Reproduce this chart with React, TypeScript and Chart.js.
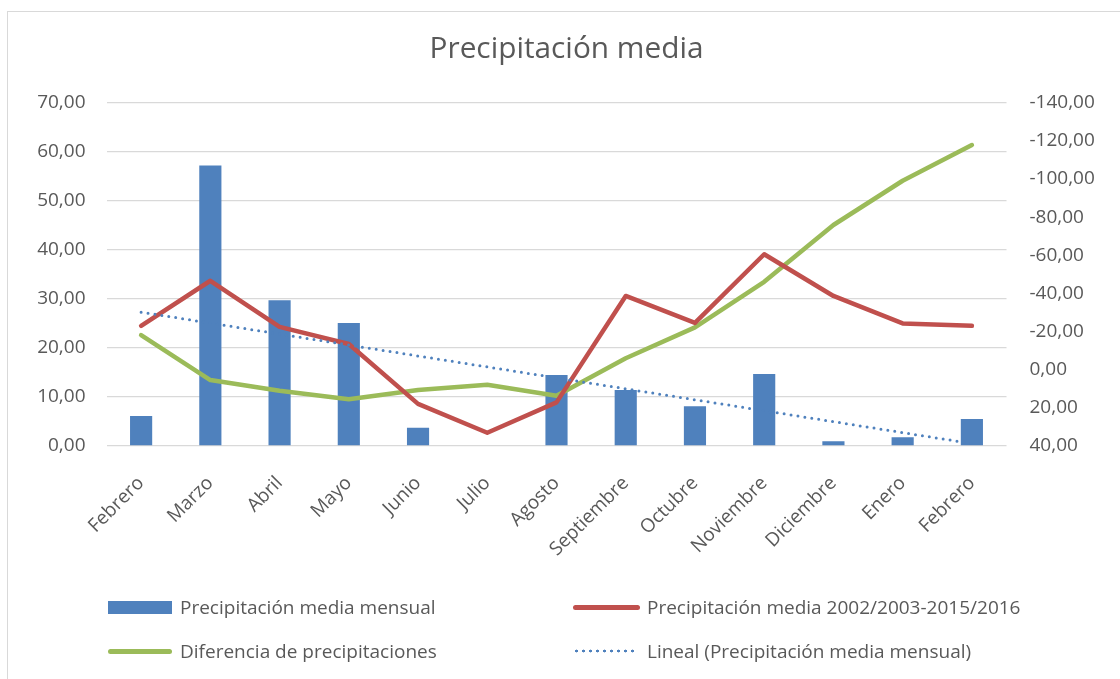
import React, { useEffect, useRef } from "react";
import { Chart, registerables } from "chart.js";

Chart.register(...registerables);

const months = ["Febrero", "Marzo", "Abril", "Mayo", "Junio", "Julio", "Agosto", "Septiembre", "Octubre", "Noviembre", "Diciembre", "Enero", "Febrero"];
const precipMensual = [6.1, 57.2, 29.7, 25.1, 3.7, 0, 14.5, 11.4, 8.1, 14.7, 0.95, 1.8, 5.5];
const precipMedia = [24.5, 33.7, 24.3, 20.8, 8.6, 2.7, 8.9, 30.6, 25.1, 39.1, 30.6, 25.0, 24.5];
const diferencia = [-18.2, 5.4, 11.0, 15.5, 10.6, 7.9, 13.6, -6.0, -22.2, -46.1, -75.9, -99.1, -117.8];
const tendenciaInicio = 27.3;
const tendenciaFin = 0.5;
const tendencia = months.map((_, i) => (i === 0 ? tendenciaInicio : i === months.length - 1 ? tendenciaFin : null));

const leftTicks = { min: 0, max: 70, step: 10 };
const rightTicks = { min: -140, max: 40, step: 20 };

const seriesNames = [
  "Precipitación media mensual",
  "Precipitación media 2002/2003-2015/2016",
  "Diferencia de precipitaciones",
  "Lineal (Precipitación media mensual)",
];
const title = "Precipitación media";

const BLUE = "#4F81BD";
const RED = "#C0504D";
const GREEN = "#9BBB59";
const TEXT = "#595959";
const FONT = "'Open Sans', sans-serif";

const fmt = (v: number) => v.toFixed(2).replace(".", ",").replace(/^-0,00$/, "0,00");

export default function App() {
  const ref = useRef<HTMLCanvasElement>(null);

  useEffect(() => {
    if (!ref.current) return;
    const chart = new Chart(ref.current, {
      type: "bar",
      data: {
        labels: months,
        datasets: [
          {
            type: "bar",
            label: seriesNames[0],
            data: precipMensual,
            backgroundColor: BLUE,
            borderWidth: 0,
            barPercentage: 0.32,
            categoryPercentage: 1,
            yAxisID: "y",
            order: 4,
          },
          {
            type: "line",
            label: seriesNames[1],
            data: precipMedia,
            borderColor: RED,
            backgroundColor: RED,
            borderWidth: 4.5,
            pointRadius: 0,
            tension: 0,
            borderCapStyle: "round",
            borderJoinStyle: "round",
            yAxisID: "y",
            order: 2,
          },
          {
            type: "line",
            label: seriesNames[2],
            data: diferencia,
            borderColor: GREEN,
            backgroundColor: GREEN,
            borderWidth: 4.5,
            pointRadius: 0,
            tension: 0,
            borderCapStyle: "round",
            borderJoinStyle: "round",
            yAxisID: "y2",
            order: 3,
          },
          {
            type: "line",
            label: seriesNames[3],
            data: tendencia,
            borderColor: BLUE,
            borderWidth: 3,
            borderDash: [0, 7],
            borderCapStyle: "round",
            pointRadius: 0,
            spanGaps: true,
            yAxisID: "y",
            order: 1,
          },
        ],
      },
      options: {
        responsive: false,
        animation: false,
        layout: { padding: { left: 13, right: 0, top: 0, bottom: 0 } },
        plugins: {
          legend: { display: false },
          tooltip: { enabled: false },
          title: {
            display: true,
            text: title,
            color: TEXT,
            font: { family: FONT, size: 29.8, weight: "normal" },
            padding: { top: 32, bottom: 35 },
          },
        },
        scales: {
          x: {
            grid: { display: false },
            border: { display: false },
            ticks: {
              color: TEXT,
              font: { family: FONT, size: 19 },
              minRotation: 45,
              maxRotation: 45,
              autoSkip: false,
              padding: 18,
            },
            afterFit: (s: any) => {
              s.height = 233;
            },
          },
          y: {
            position: "left",
            min: leftTicks.min,
            max: leftTicks.max,
            ticks: {
              stepSize: leftTicks.step,
              color: TEXT,
              font: { family: FONT, size: 19 },
              padding: 21,
              callback: (v: any) => fmt(Number(v)),
            },
            grid: { color: "#d9d9d9", lineWidth: 1.3, drawTicks: false },
            border: { display: false },
            afterFit: (s: any) => {
              s.width = 93.5;
            },
          },
          y2: {
            position: "right",
            reverse: true,
            min: rightTicks.min,
            max: rightTicks.max,
            ticks: {
              stepSize: rightTicks.step,
              color: TEXT,
              font: { family: FONT, size: 19 },
              padding: 23,
              callback: (v: any) => fmt(Number(v)),
            },
            grid: { display: false, drawTicks: false },
            border: { display: false },
            afterFit: (s: any) => {
              s.width = 113.5;
            },
          },
        },
      },
    } as any);
    return () => chart.destroy();
  }, []);

  const textStyle: React.CSSProperties = {
    position: "absolute",
    fontFamily: FONT,
    fontSize: 19,
    color: TEXT,
    lineHeight: "24px",
    whiteSpace: "nowrap",
  };

  return (
    <div style={{ position: "absolute", left: 0, top: 0, width: 1120, height: 679, overflow: "hidden", background: "#fff" }}>
      <div style={{ position: "absolute", left: 7, top: 11, width: 1300, height: 900, border: "1px solid #d9d9d9" }} />
      <canvas ref={ref} width={1120} height={679} style={{ position: "absolute", left: 0, top: 0 }} />
      {/* Legend */}
      <div style={{ position: "absolute", left: 108, top: 601, width: 64, height: 13, background: BLUE }} />
      <div style={{ ...textStyle, left: 180, top: 595 }}>{seriesNames[0]}</div>
      <div style={{ position: "absolute", left: 573, top: 605, width: 67, height: 4.5, borderRadius: 3, background: RED }} />
      <div style={{ ...textStyle, left: 647, top: 595 }}>{seriesNames[1]}</div>
      <div style={{ position: "absolute", left: 108, top: 649, width: 64, height: 4.5, borderRadius: 3, background: GREEN }} />
      <div style={{ ...textStyle, left: 180, top: 639 }}>{seriesNames[2]}</div>
      <div
        style={{
          position: "absolute",
          left: 573,
          top: 649,
          width: 63,
          height: 4,
          backgroundImage: `radial-gradient(circle, ${BLUE} 1.2px, transparent 1.7px)`,
          backgroundSize: "7px 4px",
        }}
      />
      <div style={{ ...textStyle, left: 647, top: 639 }}>{seriesNames[3]}</div>
    </div>
  );
}
